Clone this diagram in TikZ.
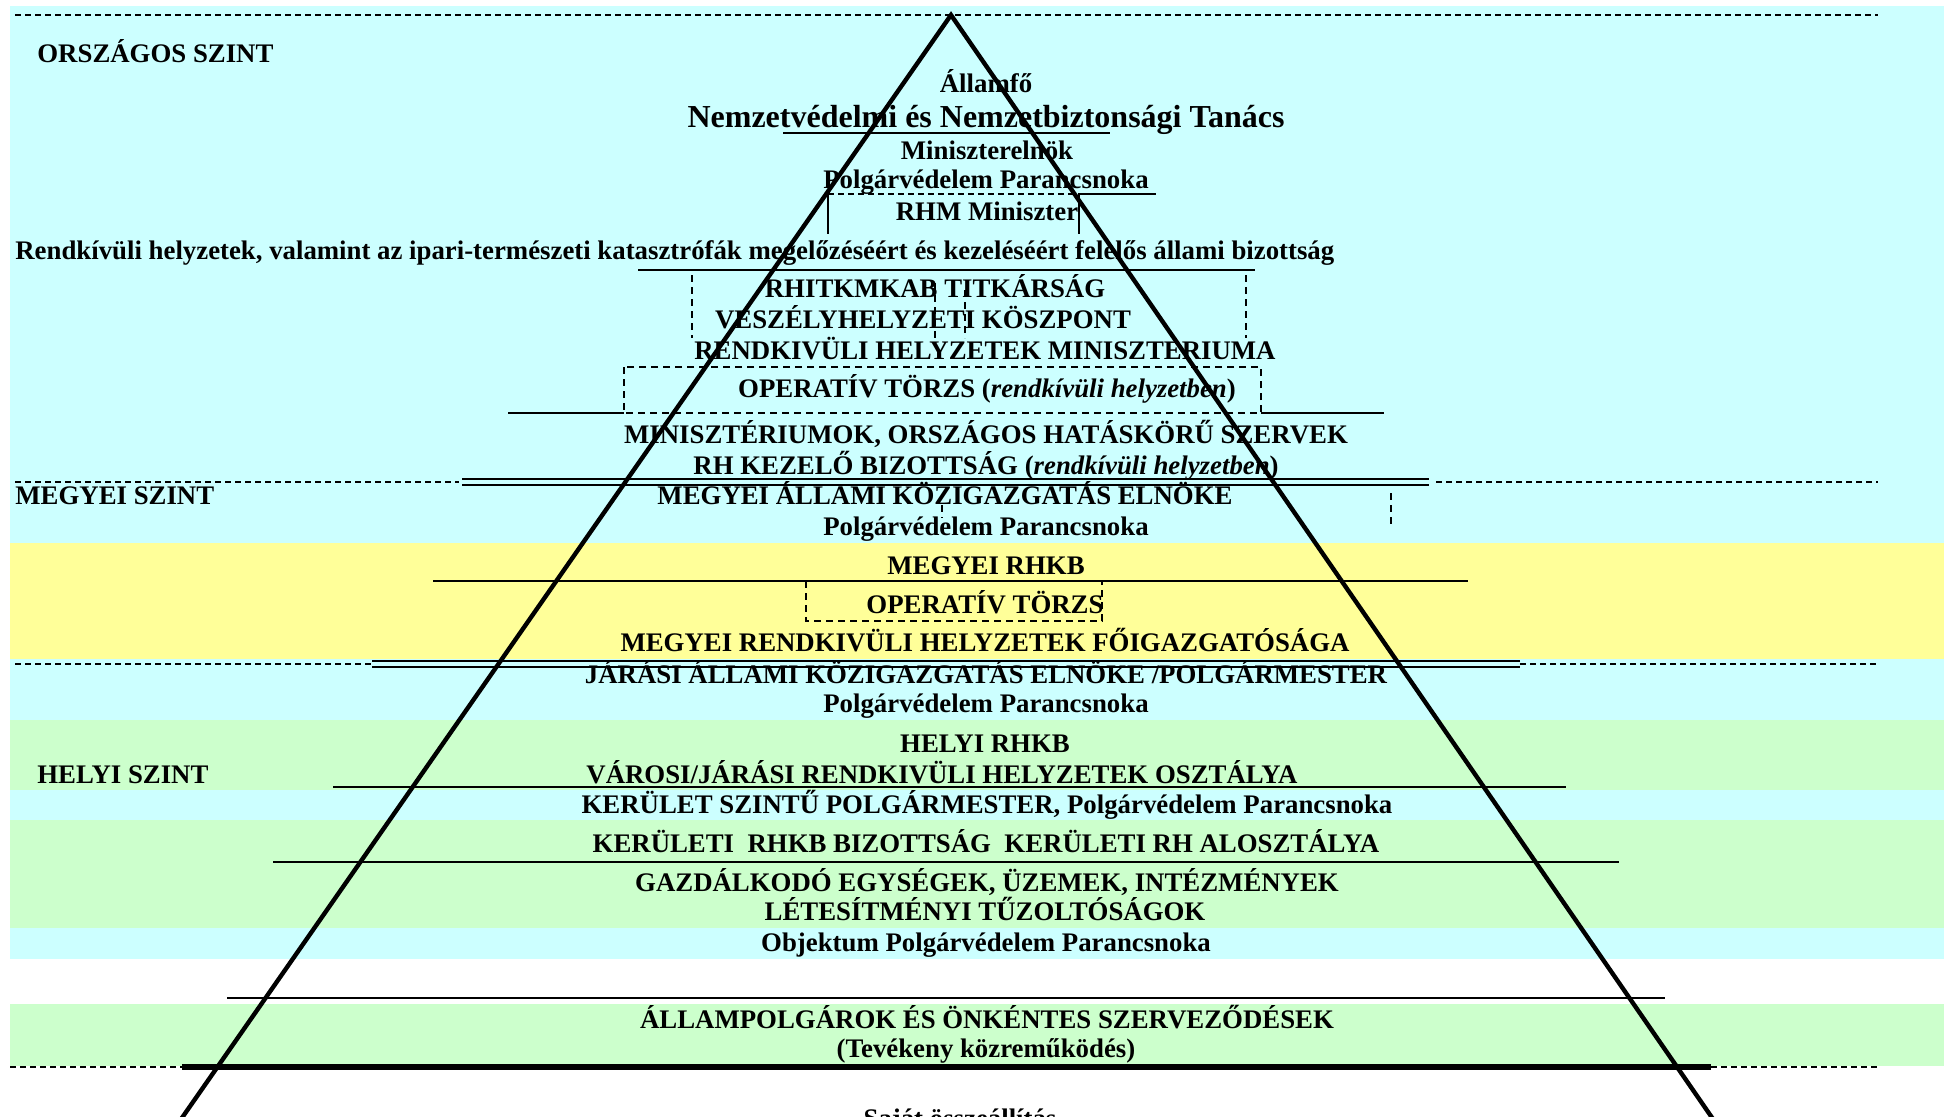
\documentclass[tikz,border=0pt]{standalone}
\usepackage{fontspec}
\setmainfont{Liberation Serif}
\begin{document}
\begin{tikzpicture}[x=0.5pt,y=-0.5pt,
  lbl/.style={inner sep=0pt,anchor=base,font=\fontsize{13.4}{15}\selectfont\bfseries},
  bigl/.style={inner sep=0pt,anchor=base,font=\fontsize{16}{18}\selectfont\bfseries},
  cyanband/.style={fill=cyanbg},
  yellowband/.style={fill=yellowbg},
  greenband/.style={fill=greenbg},
  levelline/.style={line width=1pt,dash pattern=on 3pt off 2pt},
  rule/.style={line width=1.3pt},
  thinrule/.style={line width=0.6pt},
  boxdash/.style={line width=0.8pt,dash pattern=on 3.5pt off 2.5pt},
  pyramid/.style={line width=2.2pt}]
\definecolor{cyanbg}{HTML}{CCFFFF}
\definecolor{yellowbg}{HTML}{FFFF99}
\definecolor{greenbg}{HTML}{CCFFCC}
\useasboundingbox (0,0) rectangle (1944,1116);
\clip (0,0) rectangle (1944,1116);

% background bands of the levels
\fill[cyanband]   (10,6)    rectangle (1944,543);
\fill[yellowband] (10,543)  rectangle (1944,659);
\fill[cyanband]   (10,659)  rectangle (1944,720);
\fill[greenband]  (10,720)  rectangle (1944,790);
\fill[cyanband]   (10,790)  rectangle (1944,820);
\fill[greenband]  (10,820)  rectangle (1944,928);
\fill[cyanband]   (10,928)  rectangle (1944,959);
\fill[greenband]  (10,1004) rectangle (1944,1066);

% level separators
\draw[levelline] (15,15) -- (1878,15);
\draw[levelline] (15,482) -- (459,482);
\draw[levelline] (1436,482) -- (1878,482);
\draw[levelline] (15,664) -- (372,664);
\draw[levelline] (1520,664) -- (1878,664);
\draw[levelline] (10,1067) -- (182,1067);
\draw[levelline] (1711,1067) -- (1878,1067);

% national level rules and frames
\draw[rule] (783,133) -- (1110,133);
\draw[thinrule,dash pattern=on 3pt off 2pt] (828,194) -- (1079,194);
\draw[rule] (1079,194) -- (1156,194);
\draw[thinrule] (828,194) -- (828,234);
\draw[thinrule] (1079,194) -- (1079,234);
\draw[rule] (638,270) -- (1255,270);
\draw[boxdash] (692,275) -- (692,338);
\draw[boxdash] (1246,275) -- (1246,338);
\draw[boxdash] (935,283) -- (935,338);
\draw[boxdash] (965,290) -- (965,338);
\draw[boxdash] (624,367) rectangle (1261,413);
\draw[rule] (508,413) -- (624,413);
\draw[rule] (1261,413) -- (1384,413);
\draw[rule] (462,479) -- (1429,479);
\draw[rule] (462,485) -- (1429,485);

% county level
\draw[boxdash] (942,505) -- (942,518);
\draw[boxdash] (1391,493) -- (1391,527);
\draw[rule] (433,581) -- (1468,581);
\draw[boxdash] (806,581) -- (806,621) -- (1102,621) -- (1102,581);
\draw[rule] (372,661) -- (1520,661);
\draw[rule] (372,667) -- (1520,667);

% local level
\draw[rule] (333,787) -- (1566,787);
\draw[rule] (273,862) -- (1619,862);
\draw[rule] (227,998) -- (1665,998);
\draw[line width=2.6pt] (182,1067) -- (1711,1067);

% texts
\node[lbl,anchor=base west] (orszagos) at (37,62) {ORSZÁGOS SZINT};
\node[lbl] (allamfo) at (986,92) {Államfő};
\node[bigl] (nbt) at (986,127) {Nemzetvédelmi és Nemzetbiztonsági Tanács};
\node[lbl] (minelnok) at (987,159) {Miniszterelnök};
\node[lbl] (pvp1) at (986,188) {Polgárvédelem Parancsnoka};
\node[lbl] (rhm) at (987,220) {RHM Miniszter};
\node[lbl,anchor=base west] (allbiz) at (15,259) {Rendkívüli helyzetek, valamint az ipari-természeti katasztrófák megelőzéséért és kezeléséért felelős állami bizottság};
\node[lbl] (titk) at (935,297) {RHITKMKAB TITKÁRSÁG};
\node[lbl] (veszk) at (923,328) {VESZÉLYHELYZETI KÖSZPONT};
\node[lbl] (rhmin) at (985,359) {RENDKIVÜLI HELYZETEK MINISZTERIUMA};
\node[lbl] (optorzs1) at (987,397) {OPERATÍV TÖRZS (\textit{rendkívüli helyzetben})};
\node[lbl] (minisz) at (986,443) {MINISZTÉRIUMOK, ORSZÁGOS HATÁSKÖRŰ SZERVEK};
\node[lbl] (rhkb) at (986,474) {RH KEZELŐ BIZOTTSÁG (\textit{rendkívüli helyzetben})};
\node[lbl,anchor=base west] (megyeiszint) at (15,504) {MEGYEI SZINT};
\node[lbl] (megyelnok) at (945,504) {MEGYEI ÁLLAMI KÖZIGAZGATÁS ELNÖKE};
\node[lbl] (pvp2) at (986,535) {Polgárvédelem Parancsnoka};
\node[lbl] (megyeirhkb) at (986,574) {MEGYEI RHKB};
\node[lbl] (optorzs2) at (985,613) {OPERATÍV TÖRZS};
\node[lbl] (megyfoig) at (985,651) {MEGYEI RENDKIVÜLI HELYZETEK FŐIGAZGATÓSÁGA};
\node[lbl] (jarasi) at (986,683) {JÁRÁSI ÁLLAMI KÖZIGAZGATÁS ELNÖKE /POLGÁRMESTER};
\node[lbl] (pvp3) at (986,712) {Polgárvédelem Parancsnoka};
\node[lbl] (helyirhkb) at (985,752) {HELYI RHKB};
\node[lbl] (varosi) at (942,783) {VÁROSI/JÁRÁSI RENDKIVÜLI HELYZETEK OSZTÁLYA};
\node[lbl,anchor=base west] (helyiszint) at (37,783) {HELYI SZINT};
\node[lbl] (kerpolg) at (987,813) {KERÜLET SZINTŰ POLGÁRMESTER, Polgárvédelem Parancsnoka};
\node[lbl] (kerrhkb) at (986,852) {KERÜLETI\ \ RHKB BIZOTTSÁG\ \ KERÜLETI RH ALOSZTÁLYA};
\node[lbl] (gazd) at (987,891) {GAZDÁLKODÓ EGYSÉGEK, ÜZEMEK, INTÉZMÉNYEK};
\node[lbl] (letes) at (985,920) {LÉTESÍTMÉNYI TŰZOLTÓSÁGOK};
\node[lbl] (objpvp) at (986,951) {Objektum Polgárvédelem Parancsnoka};
\node[lbl] (allampolg) at (987,1028) {ÁLLAMPOLGÁROK ÉS ÖNKÉNTES SZERVEZŐDÉSEK};
\node[lbl] (tevekeny) at (986,1057) {(Tevékeny közreműködés)};
\node[lbl] (forras) at (960,1127) {Saját összeállítás};

% the pyramid
\coordinate (apex) at (951,15);
\coordinate (baseL) at (170,1135);
\coordinate (baseR) at (1724,1135);
\draw[pyramid,line join=miter] (baseL) -- (apex) -- (baseR);
\end{tikzpicture}
\end{document}
